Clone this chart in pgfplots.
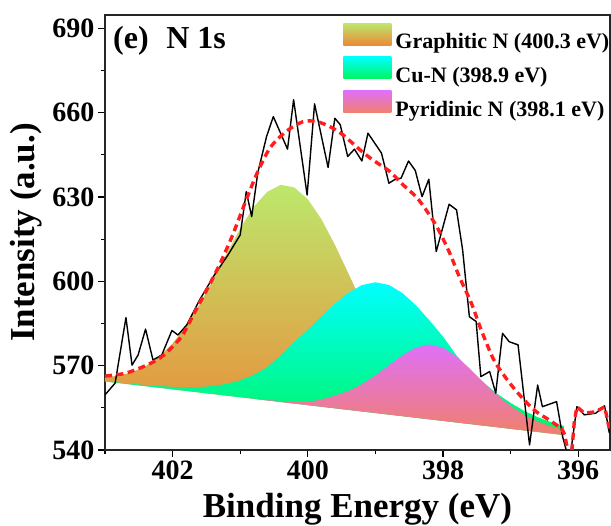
\documentclass[border=0pt]{standalone}
\usepackage{pgfplots}
\pgfplotsset{compat=1.18}
\usepackage{fontspec}
\setmainfont{Liberation Serif}
\definecolor{gtop}{HTML}{BCE86C}
\definecolor{gbot}{HTML}{EC8A38}
\definecolor{ctop}{HTML}{00FFFF}
\definecolor{cbot}{HTML}{00F560}
\definecolor{ptop}{HTML}{E070F8}
\definecolor{pbot}{HTML}{F0806A}
\definecolor{envred}{HTML}{FF1E1E}
\begin{document}
\begin{tikzpicture}
\begin{axis}[
  scale only axis, width=505pt, height=435pt,
  at={(0pt,0pt)}, anchor=south west,
  x dir=reverse,
  xmin=395.53, xmax=403.0, ymin=540, ymax=694.73,
  xtick={396,398,400,402}, minor xtick={397,399,401,403},
  ytick={540,570,600,630,660,690}, minor ytick={555,585,615,645,675},
  tick pos=left, tick align=outside,
  major tick length=7pt, minor tick length=4pt,
  every tick/.style={black, line width=1.2pt},
  axis line style={line width=1.2pt, black!85},
  /pgf/number format/assume math mode=true,
  /pgf/number format/1000 sep={},
  ticklabel style={font=\fontsize{28}{28}\selectfont\bfseries},
  xlabel={Binding Energy (eV)}, ylabel={Intensity (a.u.)},
  label style={font=\fontsize{35}{35}\selectfont\bfseries},
  xlabel style={at={(axis description cs:0.5,-0.099)}, anchor=north, inner sep=0pt},
  ylabel style={at={(axis description cs:-0.1248,0.5)}, anchor=south, inner sep=0pt},
  legend style={at={(axis description cs:1.003,0.982)}, anchor=north east, draw=none, fill=none,
    font=\fontsize{22}{22}\selectfont\bfseries, row sep=5pt, inner sep=0pt,
    nodes={inner sep=2pt}},
  legend cell align=left,
]
\addplot[draw=none, top color=gtop, bottom color=gbot,
  legend image code/.code={\shade[top color=gtop,bottom color=gbot] (0pt,-3.5pt) rectangle (48pt,18.5pt); \path (0pt,0pt) -- (50pt,0pt);}]
coordinates {(403.0,565.84) (402.8,566.41) (402.6,567.65) (402.4,569.80) (402.2,573.14) (402.0,577.86) (401.8,584.11) (401.6,591.80) (401.4,600.57) (401.2,609.85) (401.0,618.79) (400.8,626.45) (400.6,631.86) (400.4,634.32) (400.2,633.41) (400.0,629.20) (399.8,622.14) (399.6,613.03) (399.4,602.83) (399.2,592.47) (399.0,582.75) (398.8,574.22) (398.6,567.14) (398.4,561.58) (398.2,557.37) (398.0,554.31) (397.8,552.11) (397.6,550.53) (397.4,549.37) (397.2,548.47) (397.0,547.72) (396.8,547.06) (396.6,546.45) (396.4,545.87) (396.2,545.30) (403.0,564.38)};
\addlegendentry{Graphitic N (400.3 eV)}
\addplot[draw=none, top color=ctop, bottom color=cbot,
  legend image code/.code={\shade[top color=ctop,bottom color=cbot] (0pt,-3.5pt) rectangle (48pt,18.5pt); \path (0pt,0pt) -- (50pt,0pt);}]
coordinates {(403.0,564.48) (402.8,563.97) (402.6,563.51) (402.4,563.10) (402.2,562.74) (402.0,562.47) (401.8,562.31) (401.6,562.35) (401.4,562.79) (401.2,563.53) (401.0,564.77) (400.8,566.71) (400.6,569.45) (400.4,573.69) (400.2,578.36) (400.0,582.81) (399.8,587.49) (399.6,592.02) (399.4,595.93) (399.2,598.65) (399.0,599.67) (398.8,598.71) (398.6,595.83) (398.4,591.44) (398.2,586.10) (398.0,580.33) (397.8,573.6) (397.6,568.3) (397.4,563.9) (397.2,560.0) (397.0,556.74) (396.8,553.92) (396.6,551.67) (396.4,549.87) (396.2,548.43) (396.2,545.30) (403.0,564.38)};
\addlegendentry{Cu-N (398.9 eV)}
\addplot[draw=none, top color=ptop, bottom color=pbot,
  legend image code/.code={\shade[top color=ptop,bottom color=pbot] (0pt,-3.5pt) rectangle (48pt,18.5pt); \path (0pt,0pt) -- (50pt,0pt);}]
coordinates {(400.8,558.26) (400.6,557.80) (400.4,557.39) (400.2,557.12) (400.0,557.16) (399.8,557.90) (399.6,559.34) (399.4,560.99) (399.2,563.38) (399.0,566.51) (398.8,570.12) (398.6,573.68) (398.4,576.45) (398.2,577.54) (398.0,576.41) (397.8,573.26) (397.6,568.86) (397.4,564.07) (397.2,559.54) (397.0,555.62) (396.8,552.51) (396.6,550.14) (396.4,548.38) (396.2,547.07) (396.2,545.30) (400.8,558.21)};
\addlegendentry{Pyridinic N (398.1 eV)}
% raw data
\addplot[forget plot, black, line width=1.4pt, line join=round]
coordinates {(403.00,559.6) (402.85,563.8) (402.69,587.1) (402.60,570.2) (402.51,573.8) (402.40,583.0) (402.29,572.0) (402.16,573.8) (402.01,582.5) (401.92,580.9) (401.79,584.5) (401.60,593.4) (401.38,602.3) (401.18,609.4) (401.00,616.5) (400.91,631.9) (400.83,623.0) (400.74,638.6) (400.61,651.5) (400.51,658.6) (400.30,647.0) (400.21,664.6) (400.01,630.7) (399.90,663.1) (399.70,640.5) (399.60,658.0) (399.52,655.7) (399.41,644.4) (399.31,647.0) (399.20,642.8) (399.11,652.7) (398.91,645.6) (398.80,634.9) (398.72,636.1) (398.62,636.7) (398.51,642.8) (398.41,639.4) (398.31,630.1) (398.21,636.3) (398.10,610.6) (397.91,627.4) (397.80,625.4) (397.71,611.2) (397.61,587.4) (397.51,585.7) (397.44,566.1) (397.31,567.9) (397.22,560.2) (397.12,581.5) (397.02,578.5) (396.89,577.4) (396.72,541.8) (396.60,563.1) (396.53,555.4) (396.32,557.2) (396.23,544.7) (396.13,535.7) (396.02,555.4) (395.91,552.5) (395.74,553.1) (395.61,555.7) (395.54,546.0)};
% envelope
\addplot[forget plot, envred, line width=3.4pt, dash pattern=on 7pt off 4.5pt, smooth]
coordinates {(403.00,566.3) (402.70,567.3) (402.41,569.9) (402.16,573.2) (401.87,580.3) (401.67,589.2) (401.47,598.1) (401.30,606.2) (401.12,616.0) (400.93,627.8) (400.76,637.9) (400.56,647.4) (400.32,653.3) (400.07,656.8) (399.87,656.8) (399.68,655.1) (399.48,652.1) (399.23,646.8) (399.04,643.2) (398.79,639.1) (398.59,634.3) (398.40,630.1) (398.25,625.4) (398.08,618.9) (397.90,610.0) (397.76,601.7) (397.58,592.2) (397.44,583.0) (397.26,572.6) (397.12,567.3) (396.97,562.5) (396.80,557.8) (396.62,553.6) (396.43,550.7) (396.25,547.7)};
\addplot[forget plot, envred, line width=3.4pt, dash pattern=on 7pt off 4.5pt]
coordinates {(396.25,547.7) (396.20,545.5) (396.15,539.0) (396.10,538.0) (396.06,549.5) (396.02,555.4) (395.91,553.1) (395.74,553.6) (395.61,555.4) (395.54,547.7)};
\node[anchor=north west, inner sep=0pt, font=\fontsize{32}{32}\selectfont\bfseries] at (axis description cs:0.0158,0.975) {(e)\hspace{0.55em}N 1s};
\end{axis}
\pgfresetboundingbox
\path[use as bounding box] (-105pt,-76pt) rectangle (506pt,450pt);
\end{tikzpicture}
\end{document}
